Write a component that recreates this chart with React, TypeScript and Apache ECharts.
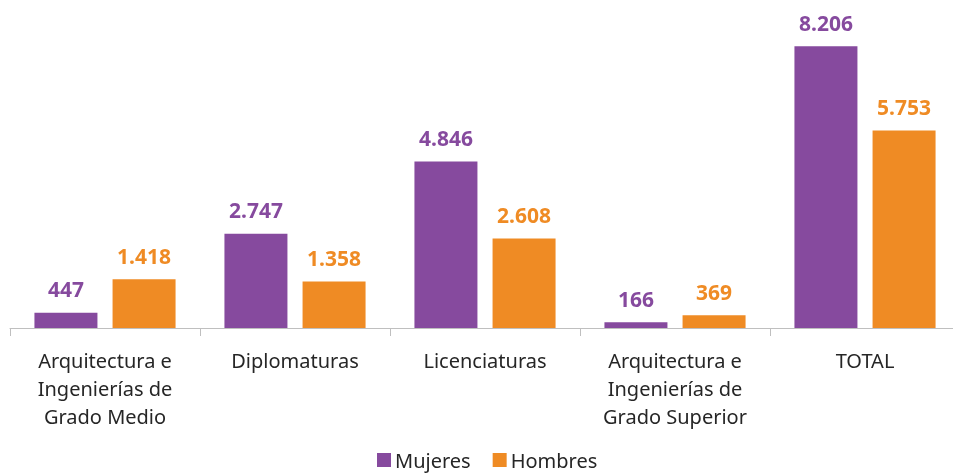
import React, { useEffect, useRef } from "react";
import * as echarts from "echarts";

const categories = [
  "Arquitectura e\nIngenierías de\nGrado Medio",
  "Diplomaturas",
  "Licenciaturas",
  "Arquitectura e\nIngenierías de\nGrado Superior",
  "TOTAL",
];
const mujeres = [447, 2747, 4846, 166, 8206];
const hombres = [1418, 1358, 2608, 369, 5753];

const PURPLE = "#864a9e";
const ORANGE = "#ef8b24";
const FONT = "'Noto Sans', 'Open Sans', sans-serif";

const fmt = (v: number) => v.toString().replace(/\B(?=(\d{3})+(?!\d))/g, ".");

export default function App() {
  const ref = useRef<HTMLDivElement>(null);
  useEffect(() => {
    if (!ref.current) return;
    const chart = echarts.init(ref.current, undefined, { renderer: "svg" });
    chart.setOption({
      animation: false,
      textStyle: { fontFamily: FONT },
      grid: {
        left: 10,
        width: 950,
        top: 19,
        bottom: 147,
        containLabel: false,
        outerBoundsMode: "none",
      },
      legend: {
        top: 446,
        left: 377,
        padding: 0,
        itemWidth: 14,
        itemHeight: 14,
        itemGap: 22,
        icon: "rect",
        textStyle: {
          fontSize: 20,
          lineHeight: 28,
          color: "#262626",
          fontFamily: FONT,
          padding: [0, 0, 0, -1],
        },
        data: ["Mujeres", "Hombres"],
      },
      xAxis: {
        type: "category",
        data: categories,
        axisLine: { lineStyle: { color: "#bfbfbf", width: 1 } },
        axisTick: { show: true, length: 8, lineStyle: { color: "#bfbfbf" } },
        axisLabel: {
          fontSize: 20,
          color: "#262626",
          lineHeight: 28,
          margin: 18,
          interval: 0,
          fontFamily: FONT,
        },
      },
      yAxis: {
        type: "value",
        min: 0,
        max: 9000,
        show: false,
        splitLine: { show: false },
      },
      series: [
        {
          name: "Mujeres",
          type: "bar",
          data: mujeres,
          barWidth: 63,
          barGap: "24%",
          itemStyle: { color: PURPLE },
          label: {
            show: true,
            position: "top",
            distance: 13,
            color: PURPLE,
            fontSize: 21,
            fontWeight: "bold",
            fontFamily: FONT,
            formatter: (p: any) => fmt(p.value),
          },
        },
        {
          name: "Hombres",
          type: "bar",
          data: hombres,
          barWidth: 63,
          barGap: "24%",
          itemStyle: { color: ORANGE },
          label: {
            show: true,
            position: "top",
            distance: 13,
            color: ORANGE,
            fontSize: 21,
            fontWeight: "bold",
            fontFamily: FONT,
            formatter: (p: any) => fmt(p.value),
          },
        },
      ],
    });
    return () => chart.dispose();
  }, []);
  return (
    <div
      ref={ref}
      style={{ position: "fixed", left: 0, top: 0, width: 953, height: 475 }}
    />
  );
}
